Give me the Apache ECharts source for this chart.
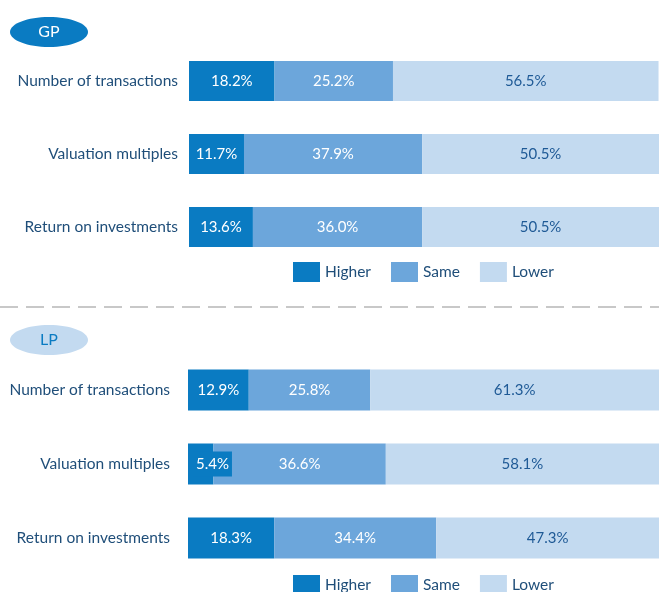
<!DOCTYPE html>
<html>
<head>
<meta charset="utf-8">
<script src="https://cdn.jsdelivr.net/npm/echarts@6/dist/echarts.min.js"></script>
<style>html,body{margin:0;padding:0;background:#fff;}#c{width:659px;height:592px;}</style>
</head>
<body>
<div id="c"></div>
<script>
const categories = ['Number of transactions', 'Valuation multiples', 'Return on investments'];
const gpHigher = [18.2, 11.7, 13.6];
const gpSame = [25.2, 37.9, 36.0];
const gpLower = [56.5, 50.5, 50.5];
const lpHigher = [12.9, 5.4, 18.3];
const lpSame = [25.8, 36.6, 34.4];
const lpLower = [61.3, 58.1, 47.3];
const seriesNames = ['Higher', 'Same', 'Lower'];

const C_HIGH = '#0a7bc2', C_SAME = '#6ca6db', C_LOW = '#c3daf0';
const TXT = '#1f4e79';
const FONT = 'Lato';
const chart = echarts.init(document.getElementById('c'));

function fmt(p) {
  const v = (typeof p.value === 'number') ? p.value : p.data.value;
  return v.toFixed(1) + '%';
}

function mk(name, data, idx, color, labColor) {
  return {
    name: name, type: 'bar', stack: 's' + idx, xAxisIndex: idx, yAxisIndex: idx,
    data: data, barWidth: idx === 0 ? 40 : 41,
    itemStyle: { color: color },
    label: {
      show: true, position: 'inside', color: labColor, fontSize: 15, fontFamily: FONT,
      formatter: fmt
    },
    emphasis: { disabled: true },
    animation: false
  };
}

const lpHighData = lpHigher.map((v, i) => i === 1 ? {
  value: v,
  label: { backgroundColor: C_HIGH, padding: [5, 3, 5, 3], position: 'insideLeft' }
} : v);

const legendBase = {
  data: seriesNames, left: 293, itemWidth: 27, itemHeight: 20, itemGap: 20, padding: 0,
  textStyle: { color: TXT, fontSize: 15.5, fontFamily: FONT }, icon: 'rect', selectedMode: false
};

const option = {
  animation: false,
  grid: [
    { left: 189, right: 0, top: 44.5, height: 219 },
    { left: 188, right: 0, top: 353, height: 222 }
  ],
  xAxis: [
    { gridIndex: 0, type: 'value', min: 0, max: 100, show: false },
    { gridIndex: 1, type: 'value', min: 0, max: 100, show: false }
  ],
  yAxis: [
    { gridIndex: 0, type: 'category', data: categories, inverse: true,
      axisLine: { show: false }, axisTick: { show: false },
      axisLabel: { color: TXT, fontSize: 15.5, fontFamily: FONT, margin: 11 } },
    { gridIndex: 1, type: 'category', data: categories, inverse: true,
      axisLine: { show: false }, axisTick: { show: false },
      axisLabel: { color: TXT, fontSize: 15.5, fontFamily: FONT, margin: 18 } }
  ],
  legend: [
    Object.assign({}, legendBase, { top: 262 }),
    Object.assign({}, legendBase, { top: 575 })
  ],
  series: [
    mk('Higher', gpHigher, 0, C_HIGH, '#fff'),
    mk('Same', gpSame, 0, C_SAME, '#fff'),
    mk('Lower', gpLower, 0, C_LOW, '#1f5a96'),
    mk('Higher', lpHighData, 1, C_HIGH, '#fff'),
    mk('Same', lpSame, 1, C_SAME, '#fff'),
    mk('Lower', lpLower, 1, C_LOW, '#1f5a96')
  ],
  graphic: [
    { type: 'ellipse', shape: { cx: 49, cy: 32, rx: 39, ry: 15 }, style: { fill: C_HIGH } },
    { type: 'text', x: 49, y: 32, style: { text: 'GP', fill: '#fff', fontSize: 16, fontFamily: FONT, align: 'center', verticalAlign: 'middle' } },
    { type: 'line', shape: { x1: 0, y1: 307, x2: 659, y2: 307 }, style: { stroke: '#c8c8c8', lineWidth: 2, lineDash: [18, 8] } },
    { type: 'ellipse', shape: { cx: 49, cy: 340, rx: 39, ry: 15 }, style: { fill: C_LOW } },
    { type: 'text', x: 49, y: 340, style: { text: 'LP', fill: C_HIGH, fontSize: 16, fontFamily: FONT, align: 'center', verticalAlign: 'middle' } }
  ]
};
chart.setOption(option);
</script>
</body>
</html>
